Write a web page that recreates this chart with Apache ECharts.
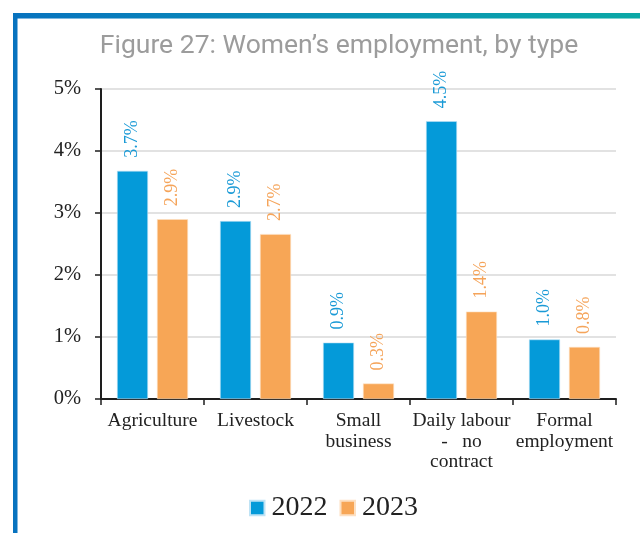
<!DOCTYPE html>
<html>
<head>
<meta charset="utf-8">
<title>Women's employment, by type</title>
<script src="https://cdn.jsdelivr.net/npm/echarts@6/dist/echarts.min.js"></script>
<style>
  html, body { margin: 0; padding: 0; background: #ffffff; }
  #chart { width: 640px; height: 533px; }
</style>
</head>
<body>
<div id="chart"></div>
<script>
// Employment categories (line breaks follow the printed wrapping)
const categories = [
  'Agriculture',
  'Livestock',
  'Small\nbusiness',
  'Daily labour\n-   no\ncontract',
  'Formal\nemployment'
];

// Share of women employed in each type, percent
const values2022 = [3.68, 2.87, 0.91, 4.48, 0.96];
const values2023 = [2.90, 2.66, 0.25, 1.41, 0.84];

const seriesNames = ['2022', '2023'];
const yTicks = [0, 1, 2, 3, 4, 5];

const BLUE = '#049ad9';
const ORANGE = '#f7a656';
const SERIF = '"Liberation Serif", "DejaVu Serif", serif';

const chart = echarts.init(document.getElementById('chart'), null, { renderer: 'canvas' });

function valueLabel(color) {
  return {
    show: true,
    position: 'top',
    rotate: 90,
    align: 'left',
    verticalAlign: 'middle',
    distance: 13,
    color: color,
    fontFamily: SERIF,
    fontSize: 18,
    formatter: p => p.value.toFixed(1) + '%'
  };
}

const option = {
  animation: false,
  backgroundColor: '#ffffff',
  title: {
    text: 'Figure 27: Women\u2019s employment, by type',
    left: 334,
    textAlign: 'center',
    top: 28,
    textStyle: {
      fontFamily: 'Roboto, "Noto Sans", sans-serif',
      fontWeight: 'normal',
      fontSize: 26.5,
      color: '#9c9c9c'
    }
  },
  graphic: [
    // frame: gradient rule along the top
    {
      type: 'rect',
      shape: { x: 13, y: 13, width: 627, height: 5 },
      style: {
        fill: new echarts.graphic.LinearGradient(0, 0, 1, 0, [
          { offset: 0, color: '#0873bf' },
          { offset: 0.5, color: '#0990b6' },
          { offset: 1, color: '#0aa8a6' }
        ])
      },
      silent: true
    },
    {
      type: 'rect',
      shape: { x: 17, y: 18, width: 623, height: 1 },
      style: {
        fill: new echarts.graphic.LinearGradient(0, 0, 1, 0, [
          { offset: 0, color: '#7fb6e0' },
          { offset: 1, color: '#7fd4d0' }
        ])
      },
      silent: true
    },
    // frame: blue rule down the left side
    {
      type: 'rect',
      shape: { x: 13, y: 13, width: 4.5, height: 520 },
      style: { fill: '#0873bf' },
      silent: true
    }
  ],
  legend: {
    data: seriesNames,
    left: 244,
    top: 489,
    itemWidth: 14.5,
    itemHeight: 14.5,
    itemGap: 12,
    icon: 'rect',
    textStyle: {
      fontFamily: SERIF,
      fontSize: 28,
      color: '#222222',
      padding: [0, 0, 0, 2]
    }
  },
  grid: {
    left: 101,
    right: 24,
    top: 89,
    bottom: 134,
    containLabel: false
  },
  xAxis: {
    type: 'category',
    data: categories,
    axisLine: { show: true, lineStyle: { color: '#1e1e1e', width: 2 } },
    axisTick: { show: true, length: 6, alignWithLabel: false, lineStyle: { color: '#1e1e1e', width: 1.5 } },
    axisLabel: {
      interval: 0,
      margin: 12,
      fontFamily: SERIF,
      fontSize: 19.5,
      lineHeight: 20.5,
      color: '#222222',
      align: 'center',
      verticalAlign: 'top'
    },
    splitLine: { show: false }
  },
  yAxis: {
    type: 'value',
    min: yTicks[0],
    max: yTicks[yTicks.length - 1],
    interval: 1,
    axisLine: { show: true, lineStyle: { color: '#1e1e1e', width: 2 } },
    axisTick: { show: true, length: 6, lineStyle: { color: '#1e1e1e', width: 1.5 } },
    axisLabel: {
      margin: 20,
      fontFamily: SERIF,
      fontSize: 20.5,
      color: '#222222',
      formatter: v => v + '%'
    },
    splitLine: { show: true, lineStyle: { color: '#d9d9d9', width: 1.5 } }
  },
  series: [
    {
      name: seriesNames[0],
      type: 'bar',
      data: values2022,
      barWidth: 31,
      barGap: '29%',
      itemStyle: { color: BLUE, borderColor: '#bfe3f5', borderWidth: 0.6 },
      label: valueLabel('#1a9ad6')
    },
    {
      name: seriesNames[1],
      type: 'bar',
      data: values2023,
      barWidth: 31,
      barGap: '29%',
      itemStyle: { color: ORANGE, borderColor: '#fde0c2', borderWidth: 0.6 },
      label: valueLabel('#f5a45a')
    }
  ]
};

chart.setOption(option);
</script>
</body>
</html>
